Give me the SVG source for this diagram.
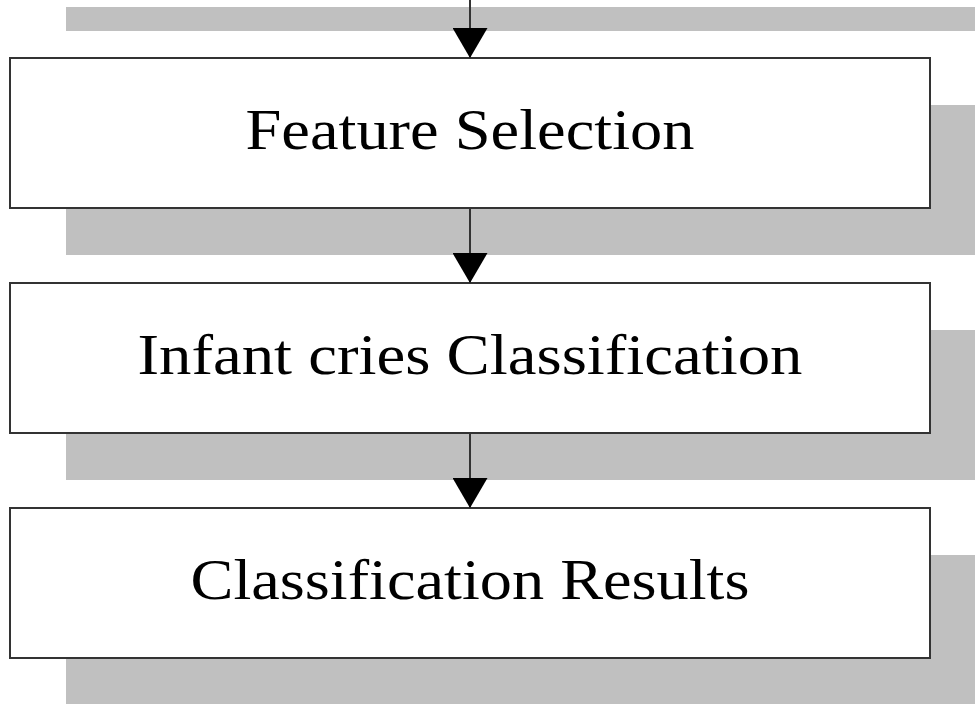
<svg xmlns="http://www.w3.org/2000/svg" width="975" height="704" viewBox="0 0 975 704">
  <style>
    .shadow { fill: #c0c0c0; }
    .box { fill: #ffffff; stroke: #333333; stroke-width: 2; }
    .label { font-family: "Liberation Serif", "Times New Roman", serif; font-size: 57px; fill: #000000; text-anchor: middle; }
    .conn { stroke: #333333; stroke-width: 2; fill: none; marker-end: url(#arrow); }
  </style>
  <defs>
    <marker id="arrow" markerUnits="userSpaceOnUse" viewBox="0 0 30 35" refX="30" refY="17.5" markerWidth="30" markerHeight="35" orient="auto">
      <path d="M0,0 L30,17.5 L0,35 z" fill="#000000"/>
    </marker>
  </defs>
  <rect width="975" height="704" fill="#ffffff"/>
  <g id="prev-shadow">
    <rect class="shadow" x="66" y="7" width="909" height="24"/>
  </g>
  <g id="node-feature-selection">
    <rect class="shadow" x="66" y="105" width="920" height="150"/>
    <rect class="box" x="10" y="58" width="920" height="150"/>
    <text class="label" x="470" y="149" textLength="449" lengthAdjust="spacingAndGlyphs">Feature Selection</text>
  </g>
  <g id="node-infant-cries-classification">
    <rect class="shadow" x="66" y="330" width="920" height="150"/>
    <rect class="box" x="10" y="283" width="920" height="150"/>
    <text class="label" x="470" y="374" textLength="665" lengthAdjust="spacingAndGlyphs">Infant cries Classification</text>
  </g>
  <g id="node-classification-results">
    <rect class="shadow" x="66" y="555" width="920" height="150"/>
    <rect class="box" x="10" y="508" width="920" height="150"/>
    <text class="label" x="470" y="599" textLength="559" lengthAdjust="spacingAndGlyphs">Classification Results</text>
  </g>
  <g id="connectors">
    <line class="conn" x1="470" y1="0" x2="470" y2="58"/>
    <line class="conn" x1="470" y1="208" x2="470" y2="283"/>
    <line class="conn" x1="470" y1="433" x2="470" y2="508"/>
  </g>
</svg>
